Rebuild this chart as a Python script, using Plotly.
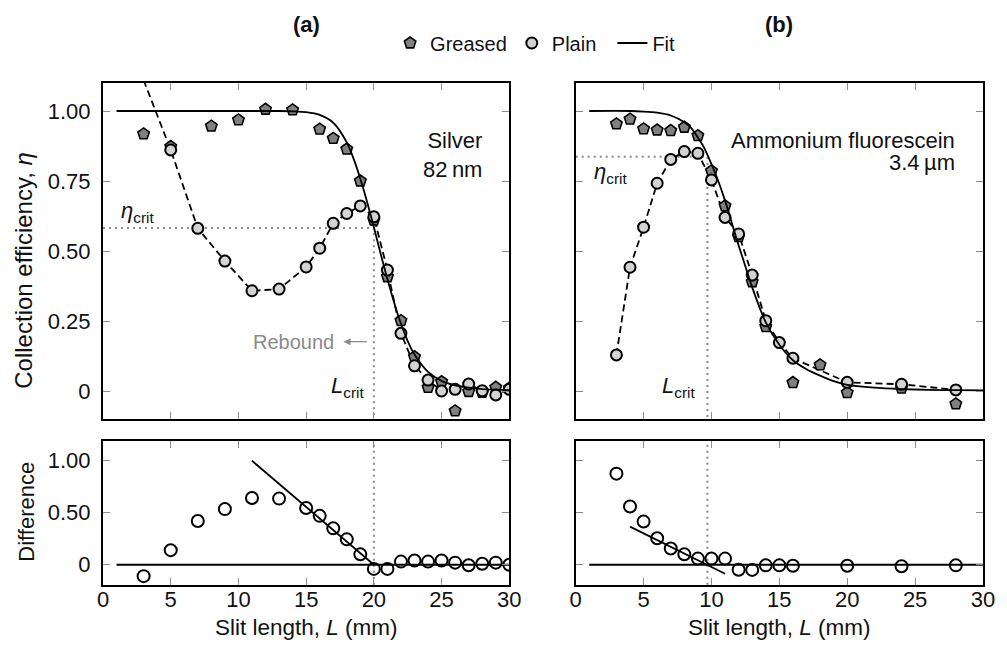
import plotly.graph_objects as go

# ---------------- data ----------------
# Panel (a): Silver, 82 nm
a_greased_L = [3, 5, 8, 10, 12, 14, 16, 17, 18, 19, 20, 21, 22, 23, 24, 25, 26, 27, 28, 29, 30]
a_greased_eta = [0.918, 0.873, 0.946, 0.968, 1.006, 1.004, 0.935, 0.902, 0.864, 0.75, 0.61,
                 0.408, 0.251, 0.122, 0.013, 0.033, -0.071, -0.002, -0.005, 0.013, 0.01]
a_plain_L = [3, 5, 7, 9, 11, 13, 15, 16, 17, 18, 19, 20, 21, 22, 23, 24, 25, 26, 27, 28, 29, 30]
a_plain_eta = [1.11, 0.861, 0.581, 0.464, 0.358, 0.364, 0.443, 0.51, 0.599, 0.634, 0.661, 0.622,
               0.432, 0.206, 0.09, 0.039, 0.0, 0.006, 0.025, 0.001, -0.014, 0.006]
a_diff = [-0.11, 0.14, 0.42, 0.535, 0.642, 0.636, 0.545, 0.47, 0.35, 0.244, 0.10, -0.04,
          -0.04, 0.03, 0.04, 0.03, 0.04, 0.02, -0.005, 0.01, 0.02, 0.0]
a_fit_L = [1, 10, 13, 14, 15, 16, 17, 18, 18.5, 19, 19.5, 20, 20.5, 21, 21.5, 22, 22.5, 23,
           24, 25, 26, 27, 28, 30]
a_fit_eta = [1.0, 1.0, 1.0, 0.999, 0.996, 0.986, 0.958, 0.888, 0.83, 0.758, 0.675, 0.585,
             0.49, 0.40, 0.315, 0.24, 0.178, 0.13, 0.068, 0.036, 0.02, 0.012, 0.007, 0.003]
a_diff_fit_L = [11, 20]
a_diff_fit = [1.0, 0.0]
a_L_crit = 20.0
a_eta_crit = 0.582

# Panel (b): Ammonium fluorescein, 3.4 um
b_greased_L = [3, 4, 5, 6, 7, 8, 9, 10, 11, 12, 13, 14, 16, 18, 20, 24, 28]
b_greased_eta = [0.954, 0.971, 0.936, 0.932, 0.93, 0.942, 0.912, 0.786, 0.661, 0.551, 0.39,
                 0.23, 0.03, 0.093, -0.006, 0.01, -0.046]
b_plain_L = [3, 4, 5, 6, 7, 8, 9, 10, 11, 12, 13, 14, 15, 16, 20, 24, 28]
b_plain_eta = [0.129, 0.442, 0.585, 0.742, 0.827, 0.855, 0.849, 0.754, 0.62, 0.561, 0.414,
               0.251, 0.173, 0.117, 0.031, 0.024, 0.004]
b_diff = [0.876, 0.56, 0.415, 0.254, 0.156, 0.10, 0.059, 0.059, 0.059, -0.048, -0.05,
          -0.006, -0.006, -0.01, -0.01, -0.015, -0.006]
b_fit_L = [1, 4, 5, 6, 7, 8, 8.5, 9, 9.5, 10, 10.5, 11, 11.5, 12, 12.5, 13, 14, 15, 16, 17,
           18, 19, 20, 22, 24, 26, 28, 30]
b_fit_eta = [1.0, 1.0, 0.998, 0.994, 0.984, 0.96, 0.94, 0.905, 0.865, 0.81, 0.75, 0.68, 0.6,
             0.52, 0.445, 0.37, 0.245, 0.165, 0.11, 0.078, 0.055, 0.035, 0.022, 0.012, 0.007,
             0.004, 0.003, 0.002]
b_diff_fit_L = [4, 11]
b_diff_fit = [0.366, -0.087]
b_L_crit = 9.7
b_eta_crit = 0.837

zero_L = [1, 30]
zero_val = [0, 0]

x_ticks = [0, 5, 10, 15, 20, 25, 30]
x_ticktext = ["0", "5", "10", "15", "20", "25", "30"]
top_ticks = [0, 0.25, 0.5, 0.75, 1.0]
top_ticktext = ["0", "0.25", "0.50", "0.75", "1.00"]
bot_ticks = [0, 0.5, 1.0]
bot_ticktext = ["0", "0.50", "1.00"]

# ---------------- styles ----------------
FONT = "Liberation Sans, Arial, Helvetica, sans-serif"
GREASED_FILL = "#808080"
PLAIN_FILL = "#d3d3d3"
DOT_GRAY = "#8a8a8a"
TXT = "#111"
TOP_RANGE = [-0.1, 1.1]
BOT_RANGE = [-0.195, 1.19]

fig = go.Figure()


def add_panel(xa, ya, xb, yb, gL, gE, pL, pE, fL, fE, dL, dV, dfL, dfV, Lc, ec, show_legend):
    # reference dotted lines (top)
    fig.add_trace(go.Scatter(x=[0, Lc, Lc], y=[ec, ec, -1], mode="lines",
                             line=dict(color=DOT_GRAY, width=2, dash="2px,4px"),
                             xaxis=xa, yaxis=ya, showlegend=False, hoverinfo="skip"))
    # dotted vertical (bottom)
    fig.add_trace(go.Scatter(x=[Lc, Lc], y=[-1, 2], mode="lines",
                             line=dict(color=DOT_GRAY, width=2, dash="2px,4px"),
                             xaxis=xb, yaxis=yb, showlegend=False, hoverinfo="skip"))
    # plain dashed connecting line
    fig.add_trace(go.Scatter(x=pL, y=pE, mode="lines",
                             line=dict(color="black", width=1.8, dash="7px,4px"),
                             xaxis=xa, yaxis=ya, showlegend=False, hoverinfo="skip"))
    # greased markers
    fig.add_trace(go.Scatter(x=gL, y=gE, mode="markers", name="Greased",
                             marker=dict(symbol="pentagon", size=12, color=GREASED_FILL,
                                         line=dict(color="black", width=1.6)),
                             xaxis=xa, yaxis=ya, showlegend=show_legend, legendgroup="g"))
    # plain markers (only those whose centre lies inside the axes)
    inL = [l for l, e in zip(pL, pE) if TOP_RANGE[0] <= e <= TOP_RANGE[1]]
    inE = [e for e in pE if TOP_RANGE[0] <= e <= TOP_RANGE[1]]
    fig.add_trace(go.Scatter(x=inL, y=inE, mode="markers", name="Plain\u00a0\u00a0",
                             marker=dict(symbol="circle", size=11, color=PLAIN_FILL,
                                         line=dict(color="black", width=2)),
                             xaxis=xa, yaxis=ya, showlegend=show_legend, legendgroup="p"))
    # fit
    fig.add_trace(go.Scatter(x=fL, y=fE, mode="lines", name="Fit",
                             line=dict(color="black", width=1.8, shape="spline", smoothing=0.8),
                             xaxis=xa, yaxis=ya, showlegend=show_legend, legendgroup="f"))
    # bottom: zero line, fit line, difference circles
    fig.add_trace(go.Scatter(x=zero_L, y=zero_val, mode="lines",
                             line=dict(color="black", width=2),
                             xaxis=xb, yaxis=yb, showlegend=False, hoverinfo="skip"))
    fig.add_trace(go.Scatter(x=dfL, y=dfV, mode="lines",
                             line=dict(color="black", width=1.8),
                             xaxis=xb, yaxis=yb, showlegend=False, hoverinfo="skip"))
    fig.add_trace(go.Scatter(x=pL, y=dV, mode="markers",
                             marker=dict(symbol="circle-open", size=12, color="black",
                                         line=dict(color="black", width=2)),
                             xaxis=xb, yaxis=yb, showlegend=False))


add_panel("x", "y", "x3", "y3", a_greased_L, a_greased_eta, a_plain_L, a_plain_eta,
          a_fit_L, a_fit_eta, a_plain_L, a_diff, a_diff_fit_L, a_diff_fit,
          a_L_crit, a_eta_crit, True)
add_panel("x2", "y2", "x4", "y4", b_greased_L, b_greased_eta, b_plain_L, b_plain_eta,
          b_fit_L, b_fit_eta, b_plain_L, b_diff, b_diff_fit_L, b_diff_fit,
          b_L_crit, b_eta_crit, False)

# ---------------- axes ----------------
W, H = 1007, 650
ML, MR, MT, MB = 103, 16, 83, 65
PW = W - ML - MR
PH = H - MT - MB
left_dom = [0, 410 / PW]
right_dom = [477 / PW, 1]
top_dom = [166 / PH, 1]
bot_dom = [0, 144 / PH]

common = dict(showline=True, linecolor="black", linewidth=2, mirror="allticks",
              ticks="inside", ticklen=7, tickwidth=1.2, tickcolor="#8c8c8c",
              showgrid=False, zeroline=False,
              tickfont=dict(family=FONT, size=22, color=TXT))


def xax(dom, anchor, labels):
    return dict(common, domain=dom, anchor=anchor, range=[0, 30], tickvals=x_ticks,
                ticktext=x_ticktext, showticklabels=labels, ticklabelstandoff=-6)


def yax(dom, anchor, rng, tv, tt, labels):
    return dict(common, domain=dom, anchor=anchor, range=rng, tickvals=tv, ticktext=tt,
                showticklabels=labels, ticklabelstandoff=6)


fig.update_layout(
    xaxis=xax(left_dom, "y", False),
    yaxis=yax(top_dom, "x", TOP_RANGE, top_ticks, top_ticktext, True),
    xaxis2=xax(right_dom, "y2", False),
    yaxis2=yax(top_dom, "x2", TOP_RANGE, top_ticks, top_ticktext, False),
    xaxis3=xax(left_dom, "y3", True),
    yaxis3=yax(bot_dom, "x3", BOT_RANGE, bot_ticks, bot_ticktext, True),
    xaxis4=xax(right_dom, "y4", True),
    yaxis4=yax(bot_dom, "x4", BOT_RANGE, bot_ticks, bot_ticktext, False),
)

# ---------------- text ----------------
ETA = "<i>η</i>"
ann = []
tf = dict(family=FONT, size=22, color=TXT)
for xr, lab in [("x", "(a)"), ("x2", "(b)")]:
    ann.append(dict(text="<b>" + lab + "</b>", xref=xr, yref="paper", x=15,
                    y=(MT + PH - 24) / PH, xanchor="center", yanchor="middle",
                    showarrow=False, font=tf))
ann.append(dict(text="Silver<br>82\u2009nm", xref="x", yref="y", x=28.1, y=0.842,
                xanchor="right", yanchor="middle", align="right", showarrow=False, font=tf))
ann.append(dict(text="Ammonium fluorescein", xref="x2", yref="y2", x=28.1, y=0.896,
                xanchor="right", yanchor="middle", showarrow=False, font=tf))
ann.append(dict(text="3.4\u2009µm", xref="x2", yref="y2", x=28.1, y=0.815,
                xanchor="right", yanchor="middle", showarrow=False, font=tf))
ann.append(dict(text=ETA + "<sub>crit</sub>", xref="x", yref="y", x=1.2, y=0.64,
                xanchor="left", yanchor="middle", showarrow=False, font=tf))
ann.append(dict(text=ETA + "<sub>crit</sub>", xref="x2", yref="y2", x=1.2, y=0.78,
                xanchor="left", yanchor="middle", showarrow=False, font=tf))
ann.append(dict(text="<i>L</i><sub>crit</sub>", xref="x", yref="y", x=19.4, y=0.015,
                xanchor="right", yanchor="middle", showarrow=False, font=tf))
ann.append(dict(text="<i>L</i><sub>crit</sub>", xref="x2", yref="y2", x=8.95, y=0.015,
                xanchor="right", yanchor="middle", showarrow=False, font=tf))
ann.append(dict(text="Rebound", xref="x", yref="y", x=17.2, y=0.176,
                xanchor="right", yanchor="middle", showarrow=False,
                font=dict(family=FONT, size=20, color="#8a8a8a")))
ann.append(dict(text="", xref="x", yref="y", x=17.75, y=0.176, ax=19.6, ay=0.176,
                axref="x", ayref="y", showarrow=True, arrowhead=2, arrowsize=1.1,
                arrowwidth=1.3, arrowcolor="#8a8a8a"))
# axis titles
ann.append(dict(text="Collection efficiency, " + ETA, xref="paper", yref="paper",
                x=(22 - ML) / PW, y=(MT + PH - 270) / PH, textangle=-90,
                xanchor="center", yanchor="middle", showarrow=False,
                font=dict(family=FONT, size=24, color=TXT)))
ann.append(dict(text="Difference", xref="paper", yref="paper",
                x=(25 - ML) / PW, y=(MT + PH - 512) / PH, textangle=-90,
                xanchor="center", yanchor="middle", showarrow=False, font=tf))
for xr in ["x3", "x4"]:
    ann.append(dict(text="Slit length, <i>L</i> (mm)", xref=xr, yref="paper",
                    x=15, y=(MT + PH - 627) / PH, xanchor="center", yanchor="middle",
                    showarrow=False, font=dict(family=FONT, size=22.5, color=TXT)))

fig.update_layout(
    width=W, height=H,
    margin=dict(l=ML, r=MR, t=MT, b=MB, pad=0),
    paper_bgcolor="white", plot_bgcolor="white",
    font=dict(family=FONT, size=20, color=TXT),
    annotations=ann,
    showlegend=True,
    legend=dict(orientation="h", x=0.491, xanchor="center", y=(MT + PH - 43) / PH,
                yanchor="middle", font=dict(family=FONT, size=20, color=TXT),
                bgcolor="rgba(0,0,0,0)", itemclick=False),
)

fig.write_html("out.html")
